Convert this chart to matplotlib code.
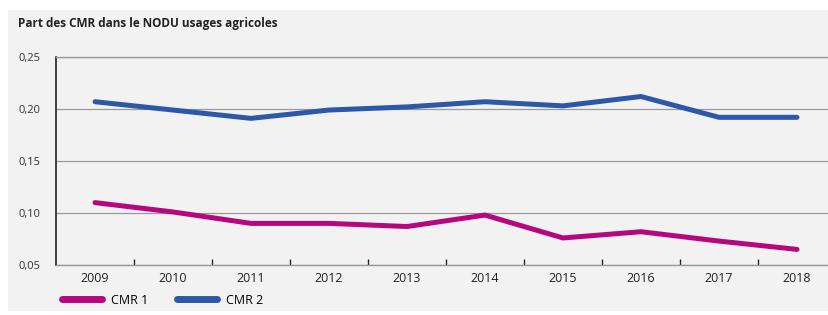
import matplotlib.pyplot as plt
from matplotlib.patches import Rectangle
from matplotlib.lines import Line2D

years = ["2009", "2010", "2011", "2012", "2013", "2014", "2015", "2016", "2017", "2018"]
cmr1 = [0.110, 0.101, 0.090, 0.090, 0.087, 0.098, 0.076, 0.082, 0.073, 0.065]
cmr2 = [0.207, 0.199, 0.191, 0.199, 0.202, 0.207, 0.203, 0.212, 0.192, 0.192]
yticks = [0.05, 0.10, 0.15, 0.20, 0.25]
ytick_labels = ["0,05", "0,10", "0,15", "0,20", "0,25"]

MAGENTA = "#b5087f"
BLUE = "#2d57a8"
BG = "#f2f2f2"
W, H = 829, 315

plt.rcParams["font.family"] = ["Open Sans", "DejaVu Sans"]

fig = plt.figure(figsize=(W / 100, H / 100), dpi=100)
fig.patch.set_facecolor("white")
fig.patches.append(Rectangle((8 / W, 4 / H), 1 - 8 / W, 301 / H, transform=fig.transFigure,
                             facecolor=BG, edgecolor="none", zorder=-10))

fig.text(18 / W, 1 - 24 / H, "Part des CMR dans le NODU usages agricoles",
         fontsize=8.5, fontweight="bold", va="center", ha="left", color="#222222")

ax = fig.add_axes([56 / W, 50 / H, 1 - 56 / W, 208 / H])
ax.set_facecolor(BG)
x = list(range(len(years)))
ax.plot(x, cmr1, color=MAGENTA, linewidth=3.6, solid_joinstyle="round", solid_capstyle="round", zorder=3)
ax.plot(x, cmr2, color=BLUE, linewidth=3.6, solid_joinstyle="round", solid_capstyle="round", zorder=3)

ax.set_xlim(-0.5, (W - 95) / 78)
ax.set_ylim(0.05, 0.25)
ax.set_yticks(yticks)
ax.set_yticklabels(ytick_labels, fontsize=8, color="#333333")
ax.set_xticks(x)
ax.set_xticklabels(years, fontsize=9, color="#222222")
ax.set_xticks([i + 0.5 for i in range(len(years) - 1)], minor=True)
ax.tick_params(axis="x", which="major", length=0, pad=5)
ax.tick_params(axis="x", which="minor", direction="in", length=4, width=1, color="#222222")
ax.tick_params(axis="y", length=0, pad=11)
ax.grid(axis="y", color="#9a9a9a", linewidth=0.9)
ax.set_axisbelow(True)
ax.spines["right"].set_visible(False)
for side in ["top", "bottom"]:
    ax.spines[side].set_color("#9a9a9a")
    ax.spines[side].set_linewidth(1.0)
ax.spines["left"].set_color("#222222")
ax.spines["left"].set_linewidth(1.2)

handles = [Line2D([], [], color=MAGENTA, linewidth=5, solid_capstyle="round"),
           Line2D([], [], color=BLUE, linewidth=5, solid_capstyle="round")]
fig.legend(handles, ["CMR 1", "CMR 2"], loc="center left", bbox_to_anchor=(51 / W, 1 - 300 / H),
           ncol=2, frameon=False, fontsize=9, handlelength=3.2, handletextpad=0.7, columnspacing=2.3)

fig.savefig("out.png", dpi=100)
